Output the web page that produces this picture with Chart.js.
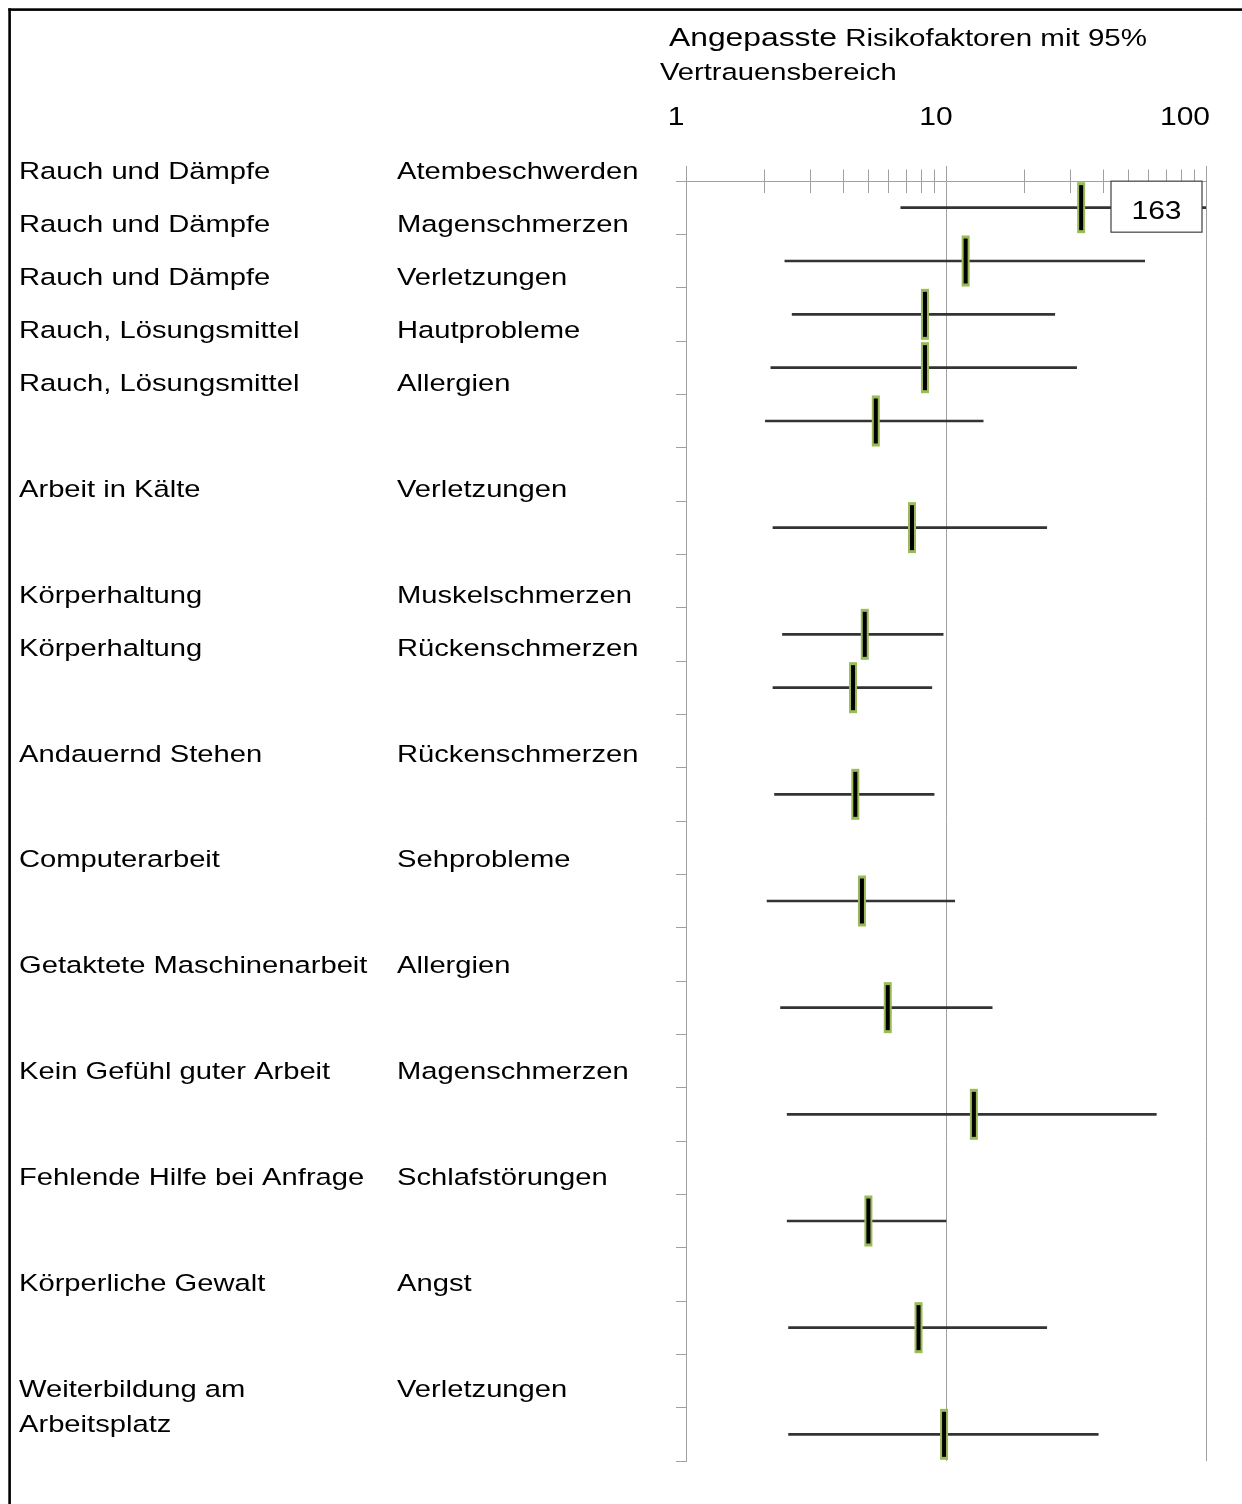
<!DOCTYPE html>
<html>
<head>
<meta charset="utf-8">
<title>Angepasste Risikofaktoren mit 95% Vertrauensbereich</title>
<script src="https://cdn.jsdelivr.net/npm/chart.js@4.4.1/dist/chart.umd.min.js"></script>
<style>
  html, body { margin: 0; padding: 0; background: #ffffff; }
  canvas { display: block; }
</style>
</head>
<body>
<canvas id="forest" width="1242" height="1504"></canvas>
<script>
// Exposure / outcome pairs, one per plotted row
const exposures = [
  "Rauch und Dämpfe", "Rauch und Dämpfe", "Rauch und Dämpfe",
  "Rauch, Lösungsmittel", "Rauch, Lösungsmittel",
  "Arbeit in Kälte",
  "Körperhaltung", "Körperhaltung",
  "Andauernd Stehen",
  "Computerarbeit",
  "Getaktete Maschinenarbeit",
  "Kein Gefühl guter Arbeit",
  "Fehlende Hilfe bei Anfrage",
  "Körperliche Gewalt",
  "Weiterbildung am\nArbeitsplatz"
];
const outcomes = [
  "Atembeschwerden", "Magenschmerzen", "Verletzungen",
  "Hautprobleme", "Allergien",
  "Verletzungen",
  "Muskelschmerzen", "Rückenschmerzen",
  "Rückenschmerzen",
  "Sehprobleme",
  "Allergien",
  "Magenschmerzen",
  "Schlafstörungen",
  "Angst",
  "Verletzungen"
];
// Row slot of each pair in the table (empty slots separate the groups)
const rowSlots = [0, 1, 2, 3, 4, 6, 8, 9, 11, 13, 15, 17, 19, 21, 23];
const rowCount = 24;

// Adjusted risk factors with lower / upper 95% limits
const riskFactor = [33.1, 11.9, 8.3, 8.3, 5.37, 7.4, 4.87, 4.39, 4.48, 4.75, 5.97, 12.8, 5.03, 7.84, 9.83];
const lowerLimit = [6.70, 2.40, 2.56, 2.12, 2.02, 2.16, 2.35, 2.16, 2.19, 2.05, 2.31, 2.45, 2.45, 2.48, 2.48];
const upperLimit = [163, 58.1, 26.2, 31.8, 13.9, 24.4, 9.75, 8.82, 9.00, 10.8, 15.05, 64.4, 10.0, 24.4, 38.5];

// Logarithmic axis
const axisMin = 1;
const axisMax = 100;
const majorTicks = [1, 10, 100];
const minorTicks = [2, 3, 4, 5, 6, 7, 8, 9, 20, 30, 40, 50, 60, 70, 80, 90];

const titleWord = "Angepasste";
const titleRest = "Risikofaktoren mit 95%";
const titleLine2 = "Vertrauensbereich";

const FONT = '"Liberation Sans", Arial, "Helvetica Neue", sans-serif';
const STRETCH = 1.2;
const GRID = '#a0a0a0';
const LABEL_SIZE = 24.3;

function wideText(ctx, text, x, y, size, align) {
  ctx.save();
  ctx.font = size + 'px ' + FONT;
  ctx.fillStyle = '#000000';
  ctx.textAlign = align || 'left';
  ctx.textBaseline = 'alphabetic';
  ctx.translate(x, y);
  ctx.scale(STRETCH, 1);
  ctx.fillText(text, 0, 0);
  ctx.restore();
}
function wideWidth(ctx, text, size) {
  ctx.save();
  ctx.font = size + 'px ' + FONT;
  const w = ctx.measureText(text).width * STRETCH;
  ctx.restore();
  return w;
}

const decor = {
  id: 'decor',
  beforeDraw(chart) {
    const ctx = chart.ctx;
    ctx.save();
    ctx.fillStyle = '#ffffff';
    ctx.fillRect(0, 0, chart.width, chart.height);
    // outer frame (left and top edges)
    ctx.fillStyle = '#000000';
    ctx.fillRect(8.3, 8.3, 2.6, chart.height);
    ctx.fillRect(8.3, 8.3, chart.width, 2.6);
    ctx.restore();
  },
  beforeDatasetsDraw(chart) {
    // minor ticks crossing the top axis line
    const ctx = chart.ctx;
    const xs = chart.scales.x;
    const top = chart.chartArea.top;
    ctx.save();
    ctx.strokeStyle = GRID;
    ctx.lineWidth = 1;
    ctx.beginPath();
    minorTicks.forEach(v => {
      const px = Math.round(xs.getPixelForValue(v)) + 0.5;
      ctx.moveTo(px, top - 11.5);
      ctx.lineTo(px, top + 12);
    });
    ctx.stroke();
    ctx.restore();
  },
  afterDatasetsDraw(chart) {
    // value box for an upper limit beyond the axis
    const ctx = chart.ctx;
    const xs = chart.scales.x;
    const ys = chart.scales.y;
    const area = chart.chartArea;
    upperLimit.forEach((u, i) => {
      if (u <= xs.max) return;
      const cy = ys.getPixelForValue(rowSlots[i]);
      const w = 91, h = 51;
      const right = area.right - 4;
      const left = right - w;
      const top = cy - 26.5;
      ctx.save();
      ctx.fillStyle = '#ffffff';
      ctx.fillRect(left, top, w, h);
      ctx.strokeStyle = '#404040';
      ctx.lineWidth = 1.2;
      ctx.strokeRect(left, top, w, h);
      ctx.restore();
      wideText(ctx, String(u), left + w / 2, cy + 11, 25, 'center');
    });
  },
  afterDraw(chart) {
    const ctx = chart.ctx;
    const xs = chart.scales.x;
    const area = chart.chartArea;
    // title
    wideText(ctx, titleWord, 669, 46, 26.5, 'left');
    const gap = wideWidth(ctx, titleWord, 26.5) + wideWidth(ctx, ' ', 24.6);
    wideText(ctx, titleRest, 669 + gap, 46, 24.6, 'left');
    wideText(ctx, titleLine2, 660, 80, 24.3, 'left');
    // tick labels of the log axis, kept inside the right edge
    xs.ticks.forEach(t => {
      const label = String(t.value);
      const half = wideWidth(ctx, label, 25) / 2;
      let cx = xs.getPixelForValue(t.value) - 10;
      cx = Math.min(cx, area.right + 4 - half);
      wideText(ctx, label, cx, 125, 25, 'center');
    });
    // table of exposures and outcomes
    const firstBaseline = 179;
    const pitch = 52.96;
    const lineGap = 35;
    rowSlots.forEach((slot, i) => {
      const base = firstBaseline + slot * pitch;
      exposures[i].split('\n').forEach((line, k) => {
        wideText(ctx, line, 19, base + k * lineGap, LABEL_SIZE, 'left');
      });
      wideText(ctx, outcomes[i], 397, base, LABEL_SIZE, 'left');
    });
  }
};

const boundaries = Array.from({ length: rowCount + 1 }, (_, k) => k - 0.5);

new Chart(document.getElementById('forest').getContext('2d'), {
  type: 'bar',
  data: {
    datasets: [
      {
        type: 'bar',
        data: rowSlots.map((slot, i) => ({ y: slot, x: [lowerLimit[i], upperLimit[i]] })),
        backgroundColor: '#333333',
        borderWidth: 0,
        barThickness: 2,
        clip: 0,
        order: 3
      },
      {
        type: 'scatter',
        data: rowSlots.map((slot, i) => ({ x: riskFactor[i], y: slot })),
        pointStyle: 'line',
        rotation: 90,
        pointRadius: 25.5,
        pointHoverRadius: 25.5,
        borderColor: '#9bbb59',
        borderWidth: 8,
        order: 2
      },
      {
        type: 'scatter',
        data: rowSlots.map((slot, i) => ({ x: riskFactor[i], y: slot })),
        pointStyle: 'line',
        rotation: 90,
        pointRadius: 22.5,
        pointHoverRadius: 22.5,
        borderColor: '#000000',
        borderWidth: 4,
        order: 1
      }
    ]
  },
  options: {
    indexAxis: 'y',
    responsive: false,
    animation: false,
    events: [],
    layout: { padding: { left: 0, top: 0, right: 36, bottom: 43 } },
    plugins: { legend: { display: false }, tooltip: { enabled: false }, title: { display: false } },
    scales: {
      x: {
        type: 'logarithmic',
        position: 'top',
        min: axisMin,
        max: axisMax,
        offset: false,
        afterBuildTicks: s => { s.ticks = majorTicks.map(v => ({ value: v, major: true })); },
        afterFit: s => { s.height = 181; },
        ticks: { display: false },
        grid: { offset: false, color: GRID, lineWidth: 1, tickLength: 15, drawTicks: true, drawOnChartArea: true },
        border: { display: true, color: GRID, width: 1 }
      },
      y: {
        type: 'linear',
        min: -0.5,
        max: rowCount - 0.5,
        reverse: true,
        offset: false,
        afterBuildTicks: s => { s.ticks = boundaries.map(v => ({ value: v })); },
        afterFit: s => { s.width = 686; },
        ticks: { display: false },
        grid: { offset: false, color: GRID, lineWidth: 1, tickLength: 10, drawTicks: true, drawOnChartArea: false },
        border: { display: true, color: GRID, width: 1 }
      }
    }
  },
  plugins: [decor]
});
</script>
</body>
</html>
